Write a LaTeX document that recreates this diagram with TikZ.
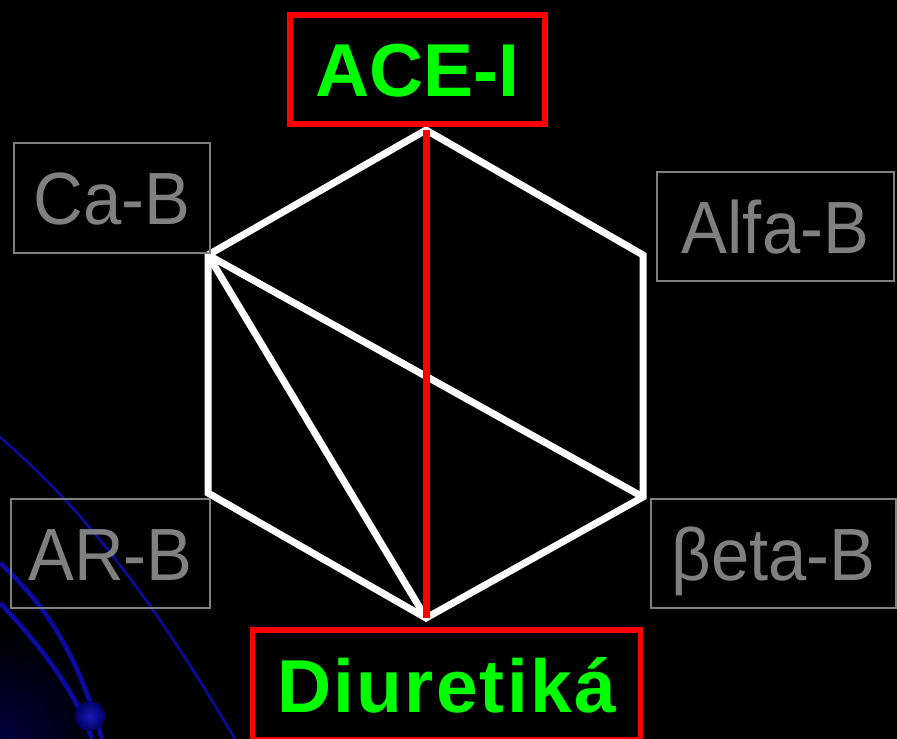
\documentclass[tikz,border=0pt]{standalone}
\usepackage{fontspec}
\setmainfont{Liberation Sans}
\newfontfamily\labelfont[FakeStretch=0.93]{Liberation Sans}
\usetikzlibrary{shadings}
\definecolor{navy}{RGB}{10,10,165}
\definecolor{grn}{RGB}{0,255,0}
\definecolor{greytxt}{RGB}{128,128,128}
\begin{document}
\begin{tikzpicture}[x=1pt,y=-1pt,
  drugbox/.style={draw=greytxt,line width=1.5pt,text=greytxt,inner sep=0pt,
    font=\labelfont\fontsize{74}{80}\selectfont,text height=53pt,text depth=0pt},
  mainbox/.style={draw=red,line width=5.5pt,text=grn,inner sep=0pt,
    font=\fontsize{75}{82}\selectfont\bfseries,text height=54pt,text depth=0pt},
  edge/.style={white,line width=7pt},
  axis/.style={red,line width=7pt}]
% background
\fill[black] (0,0) rectangle (897,739);
\useasboundingbox (0,0) rectangle (897,739);
% faint glow in the lower left corner
\begin{scope}
\clip (0,0) rectangle (897,739);
\shade[inner color={rgb,255:red,0;green,0;blue,60},outer color=black] (0,739) circle[radius=110];
\end{scope}
% decorative blue curves
\draw[navy,line width=2.5pt] (0,437) .. controls (60,490) and (130,560) .. (235,739);
\draw[navy,line width=4.5pt] (0,563) .. controls (40,600) and (75,645) .. (102,739);
\draw[navy,line width=4.5pt] (0,603) .. controls (40,645) and (75,690) .. (92,739);
\shade[inner color={rgb,255:red,25;green,25;blue,185},outer color={rgb,255:red,0;green,0;blue,100}]
  (90,716) circle[radius=15];
% hexagon corners
\coordinate (top) at (426,130);
\coordinate (ul) at (208,255);
\coordinate (ll) at (208,493);
\coordinate (bot) at (426,618);
\coordinate (lr) at (643,497);
\coordinate (ur) at (643,255);
% hexagon and its diagonals
\draw[edge] (top) -- (ur) -- (lr) -- (bot) -- (ll) -- (ul) -- cycle;
\draw[edge] (ul) -- (bot);
\draw[edge] (ul) -- (lr);
\draw[axis] (top) -- (bot);
% drug class boxes
\node[drugbox,minimum width=196pt,minimum height=110pt] (ca) at (112,198) {Ca-B};
\node[drugbox,minimum width=237pt,minimum height=109pt] (alfa) at (775.5,226.5) {Alfa-B};
\node[drugbox,minimum width=199pt,minimum height=109pt] (ar) at (110.5,553.5) {AR-B};
\node[drugbox,minimum width=245pt,minimum height=109pt] (beta) at (773.5,553.5) {βeta-B};
\node[mainbox,minimum width=255pt,minimum height=109pt] (ace) at (417.5,69.5) {ACE-I};
\node[mainbox,minimum width=388pt,minimum height=110pt] (diu) at (446.5,685)
  {\addfontfeature{LetterSpace=3}Diuretiká};
\end{tikzpicture}
\end{document}
